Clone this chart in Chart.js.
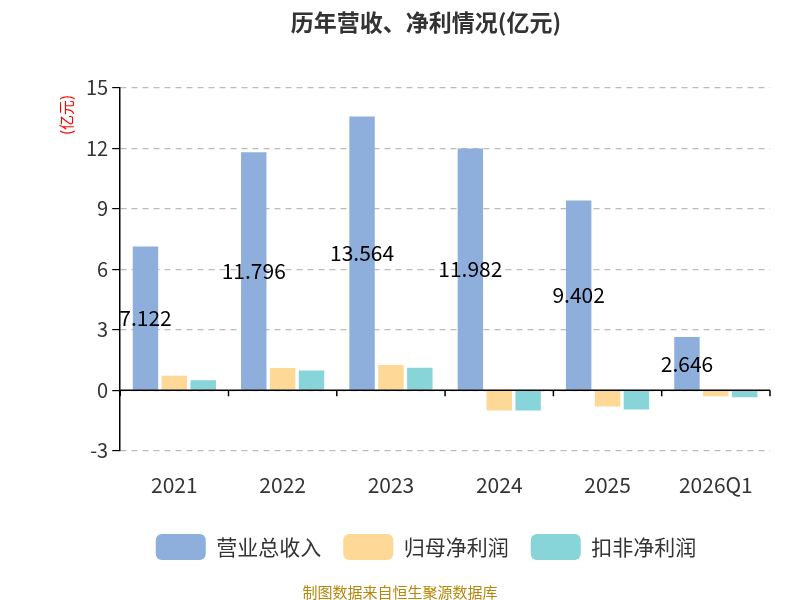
<!DOCTYPE html>
<html><head><meta charset="utf-8">
<script src="https://cdn.jsdelivr.net/npm/chart.js@4/dist/chart.umd.min.js"></script>
<style>body{margin:0;background:#fff}#w{width:800px;height:600px;position:relative}</style>
</head><body><div id="w"><canvas id="c" width="800" height="600"></canvas></div>
<script>
const categories=['2021','2022','2023','2024','2025','2026Q1'];
const revenue=[7.122,11.796,13.564,11.982,9.402,2.646];
const netProfit=[0.72,1.1,1.25,-1.0,-0.8,-0.3];
const deductedProfit=[0.5,0.98,1.12,-1.0,-0.95,-0.35];
const yTicks=[-3,0,3,6,9,12,15];
const F='"Noto Sans CJK SC","Noto Sans",sans-serif';
const labelPlugin={id:'lp',afterDatasetsDraw(ch){
 const {ctx,scales:{x,y}}=ch;const z=y.getPixelForValue(0);
 ctx.save();ctx.strokeStyle='#000';ctx.lineWidth=1.5;ctx.beginPath();ctx.moveTo(x.left,z);ctx.lineTo(x.right,z);ctx.stroke();
 const n=categories.length,w=(x.right-x.left)/n;
 for(let i=0;i<=n;i++){const px=x.left+i*w;ctx.beginPath();ctx.moveTo(px,z);ctx.lineTo(px,z+6);ctx.stroke();}
 const m=ch.getDatasetMeta(0);ctx.fillStyle='#000';ctx.font='21px '+F;ctx.textAlign='center';ctx.textBaseline='middle';
 m.data.forEach((b,i)=>{ctx.fillText(revenue[i].toFixed(3),b.x,(b.y+z)/2);});
 ctx.restore();}};
new Chart(document.getElementById('c'),{type:'bar',
data:{labels:categories,datasets:[
{label:'营业总收入',data:revenue,backgroundColor:'#8eaedb'},
{label:'归母净利润',data:netProfit,backgroundColor:'#fdd897'},
{label:'扣非净利润',data:deductedProfit,backgroundColor:'#87d4d9'}]},
options:{responsive:false,animation:false,
layout:{padding:{left:82,right:30,top:0,bottom:30}},
datasets:{bar:{categoryPercentage:0.8,barPercentage:0.88}},
plugins:{title:{display:true,text:'历年营收、净利情况(亿元)',font:{family:F,size:23,weight:'bold'},color:'#333',padding:{top:8,bottom:52}},
legend:{position:'bottom',labels:{font:{family:F,size:21},color:'#333',boxWidth:50,boxHeight:26,useBorderRadius:true,borderRadius:6,padding:22}},
tooltip:{enabled:false}},
scales:{x:{grid:{display:false},border:{display:false},ticks:{font:{family:F,size:21},color:'#333',padding:14}},
y:{min:-3,max:15,afterBuildTicks(a){a.ticks=yTicks.map(v=>({value:v}));},
grid:{color:'#bbb',lineWidth:1.2,drawTicks:true,tickLength:8,tickColor:'#000'},border:{display:true,color:'#000',dash:[6,5],width:1.5},
ticks:{font:{family:F,size:20},color:'#333',padding:4},
title:{display:false}}}},
plugins:[labelPlugin,{id:'ex',afterDraw(ch){const ctx=ch.ctx;ctx.save();
ctx.fillStyle='#b8860b';ctx.font='15px '+F;ctx.textAlign='center';ctx.fillText('制图数据来自恒生聚源数据库',400,592);
ctx.translate(66,115);ctx.rotate(-Math.PI/2);ctx.fillStyle='red';ctx.font='15px '+F;ctx.textAlign='center';ctx.fillText('(亿元)',0,0);ctx.restore();}}]});
</script></body></html>
